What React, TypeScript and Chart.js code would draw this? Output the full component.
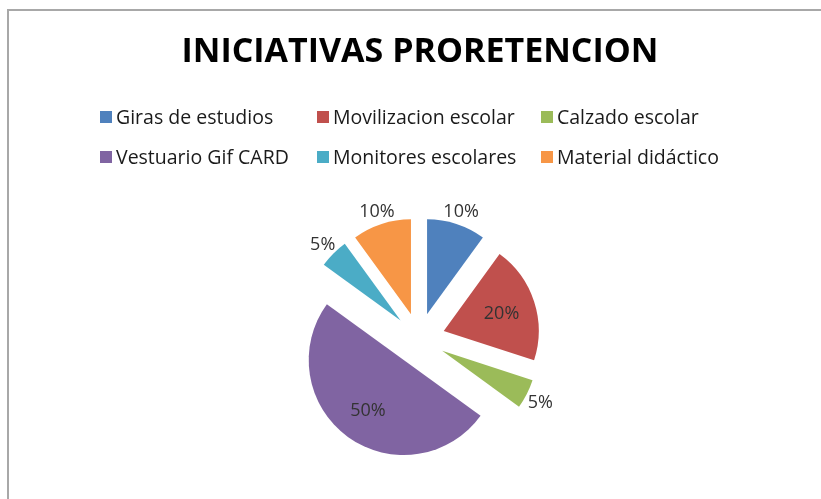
import React, { useEffect, useRef } from "react";
import { Chart, registerables } from "chart.js";

Chart.register(...registerables);

const TITLE = "INICIATIVAS PRORETENCION";
const categories = [
  "Giras de estudios",
  "Movilizacion escolar",
  "Calzado escolar",
  "Vestuario Gif CARD",
  "Monitores escolares",
  "Material didáctico",
];
const values = [10, 20, 5, 50, 5, 10];
const colors = ["#4F81BD", "#C0504D", "#9BBB59", "#8064A2", "#4BACC6", "#F79646"];

const FONT = "'Open Sans', 'Noto Sans', sans-serif";
const EXPLODE = 26;

const overlayPlugin = {
  id: "overlay",
  beforeDatasetDraw(chart: any) {
    const ctx = chart.ctx;
    const meta = chart.getDatasetMeta(0);
    meta.data.forEach((arc: any) => {
      const mid = (arc.startAngle + arc.endAngle) / 2;
      ctx.save();
      ctx.translate(Math.cos(mid) * EXPLODE, Math.sin(mid) * EXPLODE);
      arc.draw(ctx);
      ctx.restore();
    });
    return false;
  },
  afterDraw(chart: any) {
    const ctx = chart.ctx;
    ctx.save();
    // title
    ctx.fillStyle = "#000";
    ctx.font = `bold 34px ${FONT}`;
    ctx.textAlign = "center";
    ctx.textBaseline = "middle";
    ctx.fillText(TITLE, 420, 52);
    // legend (grid)
    const cols = [100, 317, 541];
    const rows = [117, 157];
    ctx.font = `19.5px ${FONT}`;
    ctx.textAlign = "left";
    categories.forEach((c, i) => {
      const x = cols[i % 3];
      const y = rows[Math.floor(i / 3)];
      ctx.fillStyle = colors[i];
      ctx.fillRect(x, y - 6, 12, 12);
      ctx.fillStyle = "#1a1a1a";
      ctx.fillText(c, x + 16, y + 1);
    });
    // data labels
    const meta = chart.getDatasetMeta(0);
    const total = values.reduce((a, b) => a + b, 0);
    ctx.font = `18px ${FONT}`;
    ctx.textAlign = "center";
    ctx.fillStyle = "#333333";
    meta.data.forEach((arc: any, i: number) => {
      const mid = (arc.startAngle + arc.endAngle) / 2;
      const pct = values[i] / total;
      const f = pct >= 0.15 ? 0.64 : 1.16;
      const r = EXPLODE + arc.outerRadius * f;
      const lx = arc.x + Math.cos(mid) * r;
      const ly = arc.y + Math.sin(mid) * r;
      ctx.fillText(Math.round(pct * 100) + "%", lx, ly + 2);
    });
    ctx.restore();
  },
};

export default function App() {
  const ref = useRef<HTMLCanvasElement>(null);
  useEffect(() => {
    if (!ref.current) return;
    const chart = new Chart(ref.current, {
      type: "pie",
      data: {
        labels: categories,
        datasets: [
          {
            data: values,
            backgroundColor: colors,
            borderWidth: 0,
          },
        ],
      },
      options: {
        responsive: false,
        animation: false,
        events: [],
        radius: 95,
        layout: { padding: { left: 17, right: 0, top: 179, bottom: 0 } },
        plugins: {
          legend: { display: false },
          title: { display: false },
          tooltip: { enabled: false },
        },
      } as any,
      plugins: [overlayPlugin],
    });
    return () => chart.destroy();
  }, []);
  return (
    <div style={{ position: "absolute", left: 0, top: 0, width: 821, height: 499, background: "#fff", overflow: "hidden" }}>
      <div
        style={{
          position: "absolute",
          left: 7,
          top: 9,
          width: 830,
          height: 510,
          borderTop: "2px solid #a8a8a8",
          borderLeft: "2px solid #a8a8a8",
        }}
      />
      <canvas ref={ref} width={821} height={499} style={{ position: "absolute", left: 0, top: 0 }} />
    </div>
  );
}
